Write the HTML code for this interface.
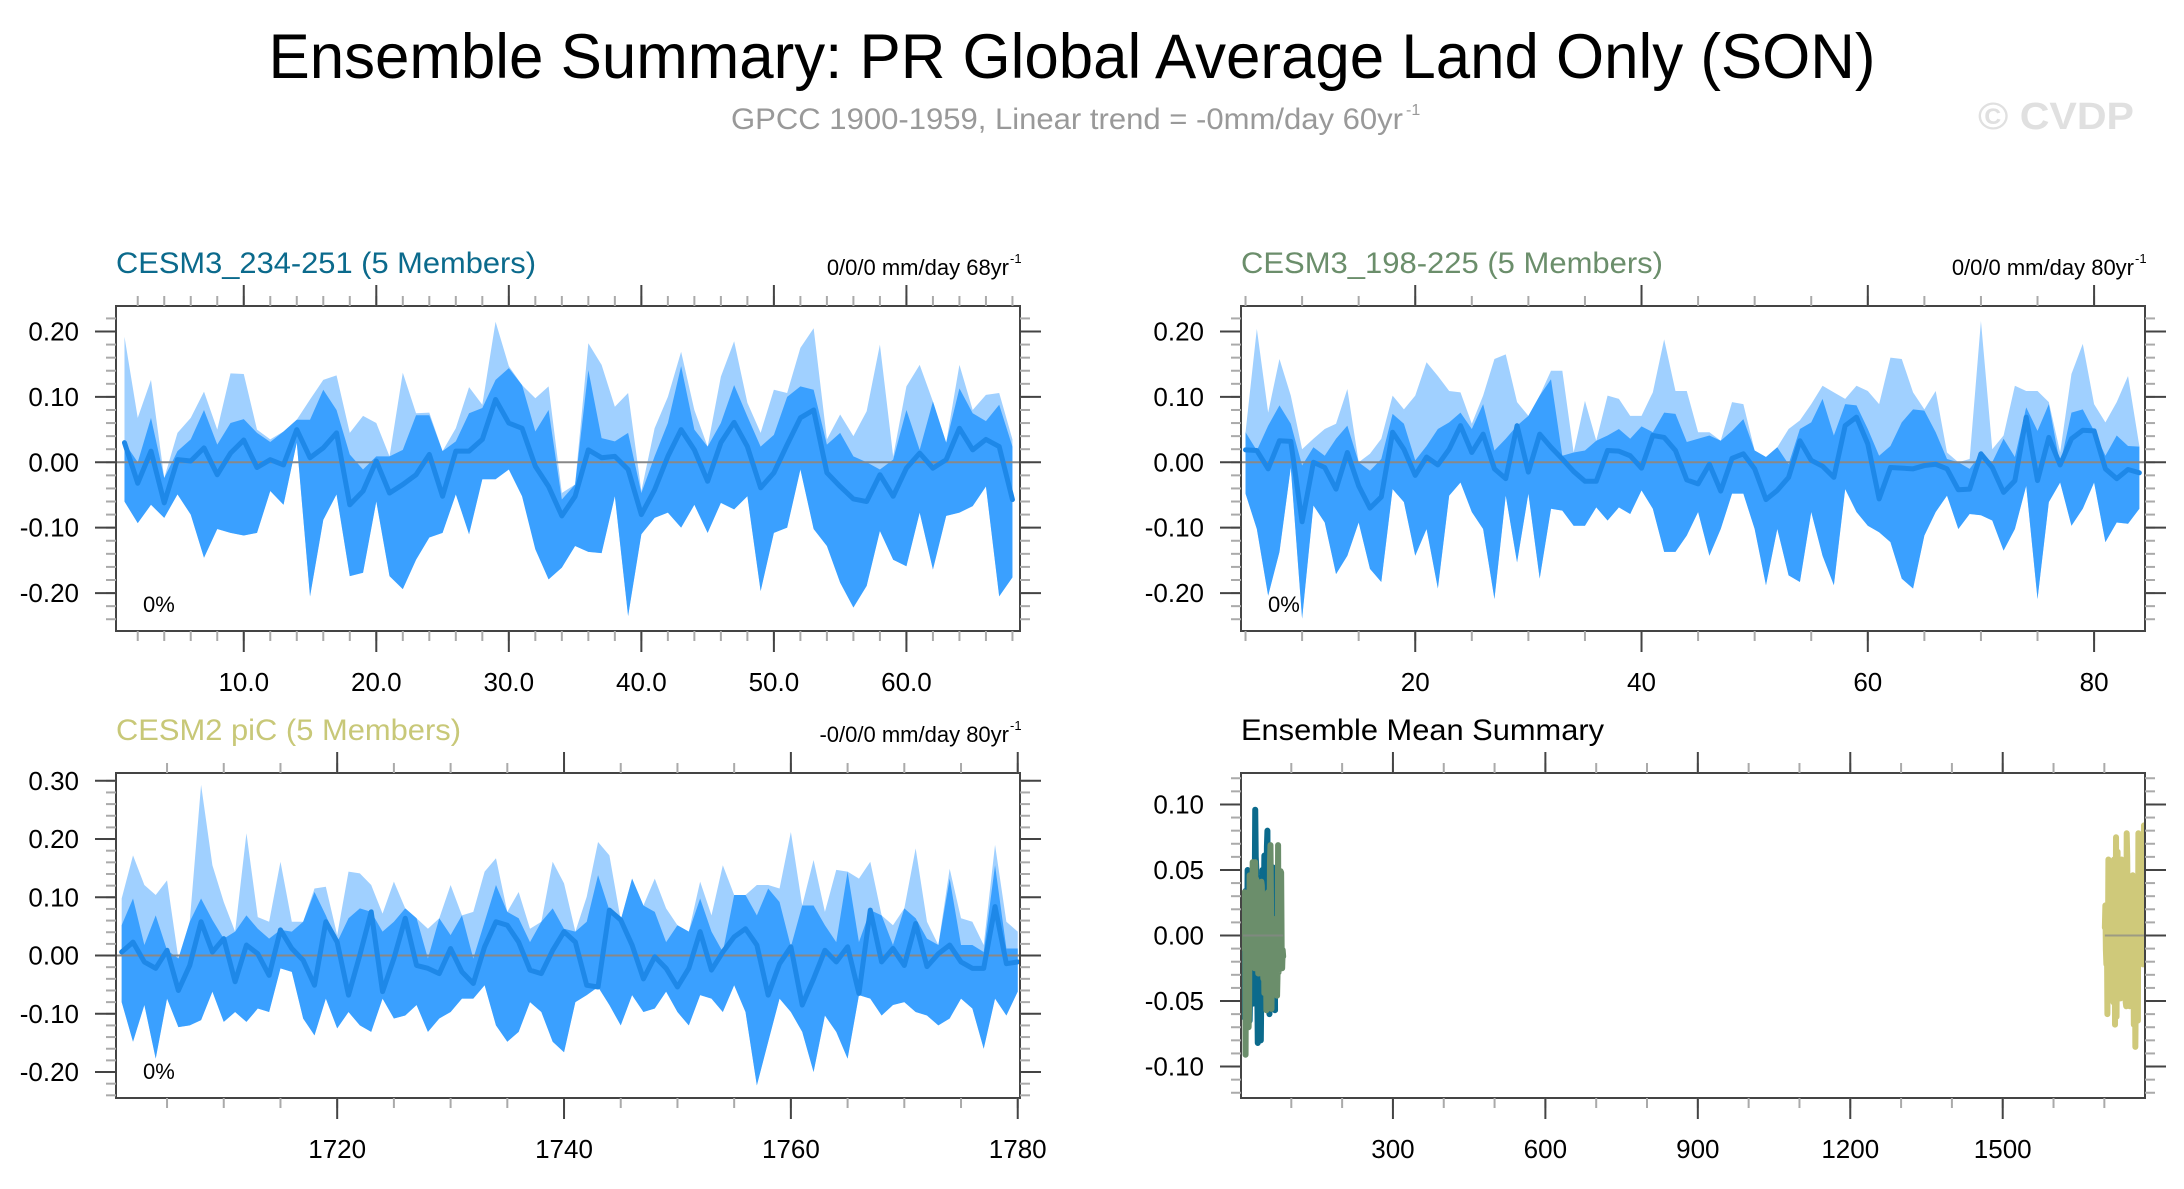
<!DOCTYPE html>
<html><head><meta charset="utf-8"><style>
html,body{margin:0;padding:0;background:#fff;}
svg{display:block;font-family:"Liberation Sans",Arial,sans-serif;}
</style></head><body>
<svg id="chart" width="2184" height="1189" viewBox="0 0 2184 1189" xmlns="http://www.w3.org/2000/svg">
<rect width="2184" height="1189" fill="#fff"/>
<text x="1072" y="78" font-size="63" text-anchor="middle" textLength="1607" lengthAdjust="spacingAndGlyphs">Ensemble Summary: PR Global Average Land Only (SON)</text>
<text x="731" y="129" font-size="30" fill="#999" textLength="672" lengthAdjust="spacingAndGlyphs">GPCC 1900-1959, Linear trend = -0mm/day 60yr</text>
<text x="1406" y="115" font-size="16" fill="#999">-1</text>
<text x="1978" y="129" font-size="38" font-weight="bold" fill="#e0e0e0" textLength="156" lengthAdjust="spacingAndGlyphs">© CVDP</text>
<g id="plots"></g>
</svg>
<script>
// ---- Panel 1: CESM3_234-251 ----
const p1Mean=[.030,-.032,.017,-.062,.004,.002,.022,-.019,.014,.034,-.008,.004,-.004,.050,.007,.022,.045,-.065,-.044,.002,-.047,-.034,-.019,.012,-.052,.017,.017,.035,.096,.060,.052,-.006,-.037,-.082,-.052,.019,.007,.009,-.011,-.080,-.042,.009,.050,.019,-.029,.030,.061,.024,-.039,-.016,.027,.068,.080,-.016,-.037,-.056,-.060,-.019,-.052,-.009,.014,-.009,.004,.052,.019,.035,.024,-.057];
const p1Max=[.192,.068,.126,-.024,.045,.068,.108,.050,.136,.135,.050,.035,.047,.065,.096,.126,.133,.045,.071,.060,.009,.137,.075,.076,.017,.052,.115,.088,.215,.147,.116,.098,.116,-.047,-.034,.182,.149,.085,.106,-.044,.052,.100,.169,.080,.024,.131,.185,.091,.045,.111,.106,.175,.205,.035,.073,.040,.078,.180,.009,.116,.149,.065,.030,.149,.080,.103,.106,.035];
const p1Upper=[.030,0,.068,-.024,.017,.035,.080,.027,.060,.066,.045,.031,.047,.065,.065,.111,.080,.012,-.011,.009,.009,.019,.072,.072,.017,.032,.075,.083,.126,.144,.118,.047,.080,-.057,-.034,.141,.037,.032,.045,-.047,.009,.060,.147,.050,.024,.060,.118,.070,.024,.042,.100,.116,.111,.027,.045,.009,0,-.011,.004,.080,.019,.093,.030,.113,.075,.063,.088,.024];
const p1Min=[-.060,-.093,-.065,-.085,-.049,-.080,-.146,-.102,-.108,-.112,-.108,-.044,-.065,.030,-.205,-.088,-.049,-.174,-.169,-.060,-.174,-.194,-.149,-.115,-.108,-.049,-.110,-.026,-.026,-.011,-.052,-.133,-.179,-.161,-.128,-.137,-.139,-.052,-.235,-.110,-.085,-.077,-.100,-.065,-.108,-.062,-.072,-.052,-.197,-.108,-.100,-.011,-.102,-.128,-.184,-.222,-.189,-.105,-.149,-.159,-.077,-.164,-.082,-.077,-.067,-.037,-.205,-.176];
const p1Start=1;
// ---- Panel 2: CESM3_198-225 ----
const p2Mean=[.019,.018,-.010,.033,.032,-.091,0,-.008,-.041,.015,-.036,-.070,-.053,.046,.020,-.020,.008,-.004,.020,.056,.015,.043,-.010,-.025,.056,-.015,.043,.023,.005,-.014,-.029,-.029,.018,.017,.010,-.009,.041,.038,.018,-.027,-.033,-.003,-.044,.006,.013,-.010,-.057,-.043,-.023,.033,.003,-.006,-.023,.056,.069,.028,-.056,-.008,-.009,-.010,-.005,-.003,-.010,-.042,-.041,.013,-.008,-.046,-.028,.069,-.028,.038,-.004,.036,.049,.048,-.010,-.025,-.011,-.016];
const p2Max=[.046,.204,.076,.158,.102,.020,.036,.051,.059,.112,0,.013,.036,.102,.081,.102,.153,.132,.109,.107,.059,.102,.158,.165,.092,.061,.102,.140,.140,.010,.094,.023,.102,.097,.071,.071,.107,.188,.109,.109,.046,.046,.031,.092,.089,.013,.008,.020,.051,.064,.089,.117,.107,.097,.117,.109,.089,.160,.158,.107,.081,.109,.015,0,.005,.216,.020,.041,.117,.109,.109,.092,.015,.135,.181,.089,.061,.092,.132,.025];
const p2Upper=[.046,.013,.056,.087,.059,-.005,.023,.010,.036,.056,0,-.013,.005,.074,.059,.003,.025,.051,.061,.076,.051,.089,.018,.036,.051,.071,.102,.127,.010,.015,.018,.033,.041,.051,.036,.055,.046,.076,.074,.031,.036,.041,.033,.048,.066,.018,.008,.023,-.003,.051,.061,.097,.041,.089,.087,.051,.010,.025,.061,.081,.079,.046,.005,0,-.010,0,0,.036,.008,.084,.048,.089,-.005,.076,.081,.031,.010,.041,.025,.024];
const p2Min=[-.048,-.102,-.204,-.137,-.008,-.239,-.066,-.092,-.171,-.143,-.092,-.163,-.183,-.041,-.061,-.143,-.102,-.193,-.051,-.031,-.076,-.102,-.209,-.051,-.153,-.048,-.178,-.071,-.074,-.097,-.097,-.069,-.089,-.069,-.079,-.043,-.071,-.137,-.137,-.112,-.076,-.143,-.102,-.048,-.048,-.102,-.188,-.102,-.173,-.183,-.076,-.143,-.188,-.041,-.076,-.097,-.107,-.122,-.178,-.193,-.112,-.076,-.051,-.102,-.079,-.081,-.089,-.135,-.102,-.036,-.209,-.061,-.031,-.097,-.071,-.031,-.122,-.092,-.094,-.071];
const p2Start=5;
// ---- Panel 3: CESM2 piC ----
const p3Mean=[.006,.023,-.011,-.022,.009,-.060,-.017,.058,.006,.029,-.045,.018,.003,-.034,.044,.012,-.008,-.051,.058,.023,-.068,.001,.075,-.062,-.005,.064,-.017,-.022,-.031,.012,-.028,-.048,.015,.058,.052,.023,-.025,-.031,.009,.041,.023,-.051,-.054,.078,.061,.018,-.040,-.002,-.022,-.054,-.022,.041,-.025,.006,.032,.046,.018,-.068,-.014,.015,-.085,-.040,.009,-.011,.015,-.065,.078,-.011,.012,-.017,.055,-.019,.003,.018,-.011,-.022,-.022,.084,-.014,-.011];
const p3Max=[.098,.172,.121,.104,.129,-.005,.058,.293,.155,.092,.026,.210,.066,.058,.161,.058,.052,.115,.118,.035,.144,.141,.121,.072,.127,.052,.041,.046,.064,.121,.006,.075,.144,.167,.075,.109,.046,.041,.161,.124,.029,.101,.195,.172,.058,-.017,.058,.132,.081,.015,.018,.127,.069,.155,.098,.009,.121,.121,.115,.212,.052,.164,.075,.147,.012,.132,.161,.064,.052,.075,.184,.058,.015,.149,.064,.058,.018,.190,.058,.041];
const p3Upper=[.052,.098,.018,.069,.006,-.005,.058,.098,.061,.029,.041,.069,.046,.029,.041,.041,.058,.109,.069,.018,.064,.081,.058,.041,.058,.081,.064,-.005,.064,.035,.069,-.005,.058,.121,.075,.064,.023,.058,.081,.046,.041,.058,.138,.058,.012,.132,.086,.075,.023,.052,.041,.098,.041,-.017,.104,.104,.069,.115,.092,-.017,.086,.086,.052,.023,.144,.023,.046,.069,.018,.081,.064,.029,.018,.132,.018,.018,.006,.155,.012,.012];
const p3Min=[-.080,-.148,-.085,-.177,-.074,-.123,-.120,-.111,-.062,-.114,-.097,-.114,-.091,-.097,-.022,-.028,-.108,-.137,-.074,-.125,-.097,-.120,-.131,-.074,-.108,-.103,-.085,-.131,-.108,-.097,-.074,-.074,-.051,-.120,-.148,-.131,-.080,-.097,-.148,-.166,-.080,-.068,-.045,-.085,-.120,-.068,-.097,-.091,-.062,-.097,-.120,-.068,-.074,-.097,-.051,-.097,-.223,-.148,-.074,-.097,-.131,-.200,-.103,-.131,-.177,-.068,-.074,-.103,-.085,-.080,-.097,-.103,-.120,-.108,-.074,-.091,-.160,-.074,-.103,-.062];
const p3Start=1701;

const NS="http://www.w3.org/2000/svg";
const root=document.getElementById('plots');
function mk(tag,attrs,parent){const e=document.createElementNS(NS,tag);for(const k in attrs)e.setAttribute(k,attrs[k]);(parent||root).appendChild(e);return e;}
function ticks(lo,hi,step){const out=[];const s=Math.ceil(lo/step-1e-9);for(let i=s;i*step<=hi+1e-9;i++)out.push(+(i*step).toFixed(6));return out;}

function panel(c){
  const g=mk('g',{});
  
  
  const X=v=>c.L+(v-c.x0)/(c.x1-c.x0)*(c.R-c.L);
  const Y=v=>c.B-(v-c.y0)/(c.y1-c.y0)*(c.B-c.T);
  const clip='clip-'+c.name;
  const cp=mk('clipPath',{id:clip},g);mk('rect',{x:c.L,y:c.T,width:c.R-c.L,height:c.B-c.T},cp);
  const pg=mk('g',{'clip-path':'url(#'+clip+')'},g);
  if(c.bands){
    c.bands.forEach(b=>{
      const xs=b.mean.map((_,i)=>X(b.start+i));
      const lo=b.min.map((v,i)=>Math.min(v,b.mean[i]));
      const up=b.upper.map((v,i)=>Math.max(v,b.mean[i]));
      const mx=b.max.map((v,i)=>Math.max(v,up[i]));
      const poly=(top,bot)=>top.map((v,i)=>xs[i]+','+Y(v)).join(' ')+' '+bot.map((v,i)=>xs[i]+','+Y(v)).reverse().join(' ');
      const a=mk('polygon',{points:poly(mx,lo),fill:'#a0d0ff'},pg);
      
      
      const d=mk('polygon',{points:poly(up,lo),fill:'#3aa0ff'},pg);
      
      
    });
  }
  if(!c.noZero){
    const z=mk('line',{x1:c.L,x2:c.R,y1:Y(0),y2:Y(0),stroke:'#888',"stroke-width":2},pg);
    
    
  }
  (c.lines||[]).forEach(ln=>{
    const pts=ln.data.map((v,i)=>X(ln.start+i)+','+Y(v)).join(' ');
    const p=mk('polyline',{points:pts,fill:'none',stroke:ln.color,"stroke-width":ln.w,"stroke-linejoin":"round","stroke-linecap":"round"},pg);
    
    
    if(c.noZero){
      const z=mk('line',{x1:X(ln.start),x2:X(ln.start+ln.data.length-1),y1:Y(0),y2:Y(0),stroke:'#888',"stroke-width":2,"stroke-opacity":0.7},pg);
      
      
    }
  });
  const fr=mk('rect',{x:c.L,y:c.T,width:c.R-c.L,height:c.B-c.T,fill:'none',stroke:'#444',"stroke-width":2},g);
  
  
  ticks(c.y0,c.y1,c.yMinor).forEach(v=>{const y=Y(v);
    mk('line',{x1:c.L-10,x2:c.L,y1:y,y2:y,stroke:'#aaa',"stroke-width":2},g);
    mk('line',{x1:c.R,x2:c.R+10,y1:y,y2:y,stroke:'#aaa',"stroke-width":2},g);});
  ticks(c.y0,c.y1,c.yMajor).forEach(v=>{const y=Y(v);
    mk('line',{x1:c.L-21,x2:c.L,y1:y,y2:y,stroke:'#444',"stroke-width":2},g);
    mk('line',{x1:c.R,x2:c.R+21,y1:y,y2:y,stroke:'#444',"stroke-width":2},g);
    const t=mk('text',{x:c.L-37,y:y+9,"font-size":26,"text-anchor":"end"},g);
    
    
    t.textContent=v.toFixed(2);});
  ticks(c.x0,c.x1,c.xMinor).forEach(v=>{const x=X(v);
    mk('line',{x1:x,x2:x,y1:c.T-10,y2:c.T,stroke:'#aaa',"stroke-width":2},g);
    mk('line',{x1:x,x2:x,y1:c.B,y2:c.B+10,stroke:'#aaa',"stroke-width":2},g);});
  ticks(c.x0,c.x1,c.xMajor).forEach(v=>{const x=X(v);
    mk('line',{x1:x,x2:x,y1:c.T-21,y2:c.T,stroke:'#444',"stroke-width":2},g);
    mk('line',{x1:x,x2:x,y1:c.B,y2:c.B+21,stroke:'#444',"stroke-width":2},g);
    const t=mk('text',{x:x,y:c.B+60,"font-size":26,"text-anchor":"middle"},g);
    
    
    t.textContent=c.xFmt(v);});
  const tt=mk('text',{x:c.L,y:c.T-33,"font-size":30,fill:c.titleColor,textLength:c.titleLen,lengthAdjust:'spacingAndGlyphs'},g);
  
  
  tt.textContent=c.title;
  if(c.trend){
    const tr=mk('text',{x:c.R-11,y:c.T-31,"font-size":22,"text-anchor":"end"},g);
    
    
    tr.textContent=c.trend;
    const sp=mk('text',{x:c.R-10,y:c.T-43,"font-size":13},g);
    
    
    sp.textContent='-1';
  }
  if(c.pct){
    const pc=mk('text',{x:c.L+27,y:c.B-19,"font-size":22},g);
    
    
    pc.textContent='0%';
  }
}
const f1=v=>v.toFixed(1), f0=v=>String(Math.round(v));
panel({name:'panel-cesm3-234-251',L:116,R:1020,T:306,B:631,x0:0.36,x1:68.57,y0:-0.258,y1:0.239,
  xMajor:10,xMinor:2,yMajor:0.1,yMinor:0.02,xFmt:f1,title:'CESM3_234-251 (5 Members)',titleColor:'#0b6a8c',titleLen:420,
  trend:'0/0/0 mm/day 68yr',pct:true,
  bands:[{mean:p1Mean,max:p1Max,upper:p1Upper,min:p1Min,start:p1Start}],
  lines:[{data:p1Mean,start:p1Start,color:'#1e88e8',w:5,name:'ensemble-mean-line'}]});
panel({name:'panel-cesm3-198-225',L:1241,R:2145,T:306,B:631,x0:4.6,x1:84.5,y0:-0.258,y1:0.239,
  xMajor:20,xMinor:5,yMajor:0.1,yMinor:0.02,xFmt:f0,title:'CESM3_198-225 (5 Members)',titleColor:'#6b8e6b',titleLen:422,
  trend:'0/0/0 mm/day 80yr',pct:true,
  bands:[{mean:p2Mean,max:p2Max,upper:p2Upper,min:p2Min,start:p2Start}],
  lines:[{data:p2Mean,start:p2Start,color:'#1e88e8',w:5,name:'ensemble-mean-line'}]});
panel({name:'panel-cesm2-pic',L:116,R:1020,T:773,B:1098,x0:1700.5,x1:1780.2,y0:-0.2446,y1:0.3134,
  xMajor:20,xMinor:5,yMajor:0.1,yMinor:0.02,xFmt:f0,title:'CESM2 piC (5 Members)',titleColor:'#c8c878',titleLen:345,
  trend:'-0/0/0 mm/day 80yr',pct:true,
  bands:[{mean:p3Mean,max:p3Max,upper:p3Upper,min:p3Min,start:p3Start}],
  lines:[{data:p3Mean,start:p3Start,color:'#1e88e8',w:5,name:'ensemble-mean-line'}]});
panel({name:'panel-ensemble-mean-summary',L:1241,R:2145,T:773,B:1098,x0:1,x1:1780,y0:-0.124,y1:0.124,noZero:true,
  xMajor:300,xMinor:100,yMajor:0.05,yMinor:0.01,xFmt:f0,title:'Ensemble Mean Summary',titleColor:'#000',titleLen:363,
  lines:[{data:p1Mean,start:p1Start,color:'#0b6a8c',w:6,name:'cesm3-234-251-mean'},
         {data:p2Mean,start:p2Start,color:'#6b8e6b',w:6,name:'cesm3-198-225-mean'},
         {data:p3Mean,start:p3Start,color:'#cfc97a',w:6,name:'cesm2-pic-mean'}]});
</script>
</body></html>
